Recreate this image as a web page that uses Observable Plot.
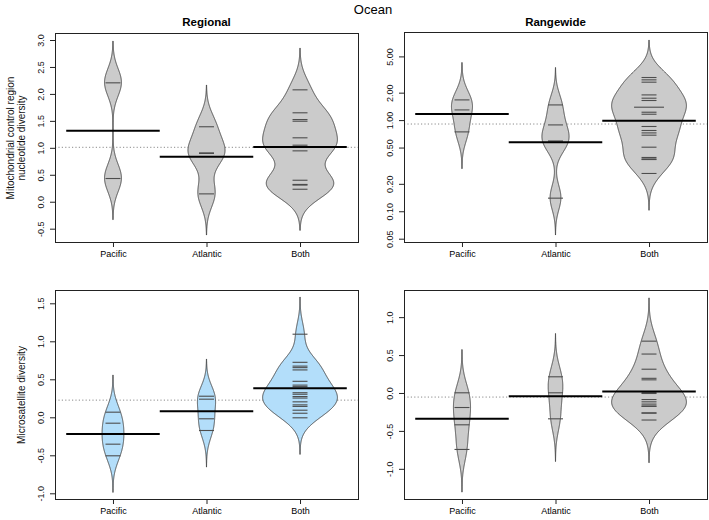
<!DOCTYPE html>
<html><head><meta charset="utf-8">
<script src="https://cdn.jsdelivr.net/npm/d3@7"></script>
<script src="https://cdn.jsdelivr.net/npm/@observablehq/plot@0.6"></script>
<style>
body{margin:0;background:#fff;font-family:"Liberation Sans",Arial,sans-serif;}
#root{position:relative;width:709px;height:520px;overflow:hidden;}
.t{position:absolute;white-space:nowrap;color:#000;line-height:1;transform:translateX(-50%);}
#root svg{position:absolute;}
</style></head><body><div id="root"></div>
<script>
// ---- categories & labels ----
const oceans = ["Pacific", "Atlantic", "Both"];
const mainTitle = "Ocean";
const colTitles = ["Regional", "Rangewide"];
const yLabelMt = "Mitochondrial control region\nnucleotide diversity";
const yLabelMsat = "Microsatellite diversity";

// ---- Mitochondrial, regional ----
const mtRegPacific = [2.215, 0.44];
const mtRegAtlantic = [1.40, 0.915, 0.905, 0.155];
const mtRegBoth = [2.085, 1.659, 1.534, 1.503, 1.195, 1.058, 1.028, 0.953, 0.408, 0.33, 0.318, 0.241];

// ---- Mitochondrial, rangewide (log axis) ----
const mtRangePacific = [1.687, 1.31, 0.752];
const mtRangeAtlantic = [1.486, 0.897, 0.598, 0.580, 0.141];
const mtRangeBoth = [2.97, 2.80, 2.64, 1.914, 1.761, 1.662, 1.403, 1.403, 1.236, 1.175, 0.862, 0.779, 0.733, 0.692, 0.511, 0.394, 0.38, 0.374, 0.263];

// ---- Microsatellite, regional ----
const msRegPacific = [0.074, -0.071, -0.216, -0.347, -0.5];
const msRegAtlantic = [0.284, 0.245, -0.013, -0.167];
const msRegBoth = [1.10, 0.73, 0.68, 0.66, 0.63, 0.48, 0.43, 0.41, 0.33, 0.31, 0.28, 0.26, 0.21, 0.17, 0.15, 0.10, 0.06, 0.00];

// ---- Microsatellite, rangewide ----
const msRangePacific = [0.009, -0.185, -0.413, -0.738];
const msRangeAtlantic = [0.22, 0.009, -0.334];
const msRangeBoth = [0.69, 0.52, 0.32, 0.20, 0.18, 0.01, 0.00, -0.08, -0.11, -0.14, -0.165, -0.17, -0.255, -0.26, -0.35];

// ---- tick values ----
const ticksMtReg = [-0.5, 0, 0.5, 1, 1.5, 2, 2.5, 3];
const ticksMtRange = [0.05, 0.1, 0.2, 0.5, 1, 2, 5];
const ticksMsReg = [-1, -0.5, 0, 0.5, 1, 1.5];
const ticksMsRange = [-1, -0.5, 0, 0.5, 1];

// ---- build ----
const root = document.getElementById("root");
function addText(txt, x, top, size, bold) {
  const d = document.createElement("div");
  d.className = "t";
  d.textContent = txt;
  d.style.left = x + "px";
  d.style.top = top + "px";
  d.style.fontSize = size + "px";
  if (bold) d.style.fontWeight = "bold";
  root.appendChild(d);
}
addText(mainTitle, 373, 3, 13, false);
addText(colTitles[0], 206.5, 17, 11.5, true);
addText(colTitles[1], 555.5, 17, 11.5, true);

function kde(t, bw) {
  const lo = d3.min(t) - 3 * bw, hi = d3.max(t) + 3 * bw, N = 512;
  return d3.range(N).map(i => {
    const g = lo + (hi - lo) * i / (N - 1);
    let s = 0;
    for (const v of t) { const z = (g - v) / bw; s += Math.exp(-0.5 * z * z); }
    return {g, d: s / (bw * Math.sqrt(2 * Math.PI))};
  });
}

function panel(cfg) {
  const {groups, bw, log, domain, ticks, fmt, fill, left, top, width, height, mL, mR, mT, mB, ylabel, labelDx} = cfg;
  const tr = log ? Math.log10 : (v => v);
  const inv = log ? (g => Math.pow(10, g)) : (g => g);
  const dens = groups.map(vals => kde(vals.map(tr), bw));
  const maxD = d3.max(dens, ds => d3.max(ds, p => p.d));
  const k = 0.4 / maxD;
  const areaRows = [], lineRows = [], meanRows = [];
  groups.forEach((vals, i) => {
    const pos = i + 1;
    dens[i].forEach(p => areaRows.push({grp: oceans[i], y: inv(p.g), x1: pos - p.d * k, x2: pos + p.d * k}));
    const counts = d3.rollup(vals, v => v.length, v => v);
    for (const [v, c] of counts) lineRows.push({y: v, x1: pos - 0.08 * c, x2: pos + 0.08 * c});
    meanRows.push({y: inv(d3.mean(vals, tr)), x1: pos - 0.5, x2: pos + 0.5});
  });
  const overall = inv(d3.mean(groups.flat(), tr));
  const marks = [
    Plot.ruleY([overall], {stroke: "#8a8a8a", strokeWidth: 1, strokeDasharray: "1.2,2.2"}),
    Plot.areaX(areaRows, {y: "y", x1: "x1", x2: "x2", z: "grp", fill, fillOpacity: 1, stroke: "#3a3a3a", strokeWidth: 0.9}),
    Plot.ruleY(lineRows, {y: "y", x1: "x1", x2: "x2", stroke: "#4d4d4d", strokeWidth: 1.1}),
    Plot.ruleY(meanRows, {y: "y", x1: "x1", x2: "x2", stroke: "#000", strokeWidth: 2}),
    Plot.frame({stroke: "#222", strokeWidth: 1}),
    Plot.axisX([1, 2, 3], {tickSize: 5, tickPadding: 3, tickFormat: d => oceans[d - 1], fontSize: 9, stroke: "#222", label: null}),
    Plot.axisY(ticks, {tickSize: 5, tickFormat: () => "", stroke: "#222", label: null}),
    Plot.text(ticks, {y: d => d, text: fmt, frameAnchor: "left", textAnchor: "middle", dx: -14, rotate: -90, fontSize: 9, fill: "#111"})
  ];
  if (ylabel) marks.push(Plot.text([ylabel], {text: d => d, frameAnchor: "left", textAnchor: "middle", dx: labelDx, rotate: -90, fontSize: 10, lineHeight: 1.12, fill: "#111"}));
  const svg = Plot.plot({
    width, height, marginLeft: mL, marginRight: mR, marginTop: mT, marginBottom: mB,
    x: {domain: [0.38, 3.62], label: null},
    y: {type: log ? "log" : "linear", domain, label: null},
    style: {background: "none", fontFamily: "'Liberation Sans', Arial, sans-serif", color: "#000", overflow: "visible"},
    marks
  });
  svg.style.left = left + "px";
  svg.style.top = top + "px";
  svg.style.maxWidth = "none";
  root.appendChild(svg);
}

const f1 = d => d.toFixed(1);
const f2 = d => d.toFixed(2);

panel({groups: [mtRegPacific, mtRegAtlantic, mtRegBoth], bw: 0.255, log: false, domain: [-0.747, 3.13],
  ticks: ticksMtReg, fmt: f1, fill: "#cbcbcb", left: 0, top: 0, width: 360, height: 262, mL: 55, mR: 2, mT: 33, mB: 20,
  ylabel: yLabelMt, labelDx: -39.5});
panel({groups: [mtRangePacific, mtRangeAtlantic, mtRangeBoth], bw: 0.135, log: true, domain: [0.046, 9.26],
  ticks: ticksMtRange, fmt: f2, fill: "#cbcbcb", left: 350, top: 0, width: 359, height: 262, mL: 54, mR: 2, mT: 32, mB: 20});
panel({groups: [msRegPacific, msRegAtlantic, msRegBoth], bw: 0.161, log: false, domain: [-1.075, 1.675],
  ticks: ticksMsReg, fmt: f1, fill: "#b3defa", left: 0, top: 260, width: 360, height: 260, mL: 55, mR: 2, mT: 30, mB: 21,
  ylabel: yLabelMsat, labelDx: -34});
panel({groups: [msRangePacific, msRangeAtlantic, msRangeBoth], bw: 0.188, log: false, domain: [-1.398, 1.358],
  ticks: ticksMsRange, fmt: f1, fill: "#cbcbcb", left: 350, top: 260, width: 359, height: 260, mL: 54, mR: 2, mT: 30, mB: 21});
</script>
</body></html>
